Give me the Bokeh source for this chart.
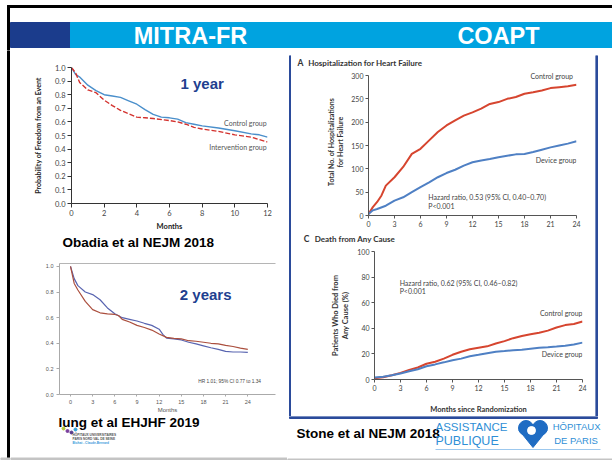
from bokeh.plotting import figure
from bokeh.layouts import column, row
from bokeh.models import Range1d, FixedTicker, LinearAxis, PrintfTickFormatter
from bokeh.core.properties import value
from bokeh.embed import file_html
from bokeh.resources import INLINE

# ---------------- data ----------------
# MITRA-FR 1 year (Obadia et al NEJM 2018): probability of freedom from an event
mitra1_control_months = [0, 0.25, 0.5, 1, 1.5, 2, 2.5, 3, 3.5, 4, 4.5, 5, 5.5, 6, 6.5, 7, 7.5, 8, 9, 10, 11, 11.5, 12]
mitra1_control_surv = [1.0, 0.95, 0.93, 0.87, 0.83, 0.80, 0.79, 0.78, 0.755, 0.73, 0.69, 0.655, 0.635, 0.63, 0.62,
                       0.595, 0.583, 0.571, 0.555, 0.535, 0.512, 0.505, 0.488]
mitra1_interv_months = [0, 0.25, 0.5, 1, 1.5, 2, 2.5, 3, 3.5, 4, 4.5, 5, 6, 6.5, 7, 7.5, 8, 9, 10, 11, 12]
mitra1_interv_surv = [1.0, 0.96, 0.89, 0.835, 0.815, 0.76, 0.72, 0.685, 0.66, 0.635, 0.63, 0.625, 0.61, 0.60,
                      0.583, 0.56, 0.548, 0.53, 0.505, 0.488, 0.452]
mitra1_y_ticks = [0.0, 0.1, 0.2, 0.3, 0.4, 0.5, 0.6, 0.7, 0.8, 0.9, 1.0]
mitra1_x_ticks = [0, 2, 4, 6, 8, 10, 12]

# MITRA-FR 2 years (Iung et al EHJHF 2019)
mitra2_blue_months = [0, 0.5, 1, 2, 3, 4, 5, 6, 7, 8, 9, 10, 11, 12, 12.5, 13, 14, 15, 16, 17, 18, 19, 20, 21, 22, 23, 24]
mitra2_blue_surv = [1.0, 0.905, 0.85, 0.80, 0.78, 0.74, 0.676, 0.63, 0.60, 0.587, 0.574, 0.556, 0.54, 0.51, 0.47,
                    0.44, 0.434, 0.426, 0.408, 0.395, 0.38, 0.365, 0.352, 0.337, 0.332, 0.332, 0.329]
mitra2_red_months = [0, 0.5, 1, 2, 3, 4, 5, 6, 6.5, 7, 8, 9, 10, 11, 12, 13, 14, 15, 16, 17, 18, 19, 20, 21, 22, 23, 24]
mitra2_red_surv = [1.0, 0.867, 0.816, 0.727, 0.663, 0.638, 0.63, 0.625, 0.617, 0.587, 0.566, 0.54, 0.523, 0.503,
                   0.472, 0.446, 0.439, 0.434, 0.42, 0.416, 0.408, 0.40, 0.395, 0.383, 0.375, 0.362, 0.352]
mitra2_y_ticks = [0.0, 0.2, 0.4, 0.6, 0.8, 1.0]
mitra2_x_ticks = [0, 3, 6, 9, 12, 15, 18, 21, 24]

# COAPT (Stone et al NEJM 2018)
coapt_hf_control_months = [0, 0.5, 1, 1.5, 2, 3, 4, 5, 6, 7, 8, 9, 10, 11, 12, 13, 14, 15, 16, 17, 18, 19, 20, 21, 22, 23, 24]
coapt_hf_control_count = [3, 18, 29, 43, 64, 82, 104, 132, 143, 161, 179, 193, 204, 214, 221, 229, 239, 243, 250,
                          254, 261, 264, 268, 273, 275, 277, 280]
coapt_hf_device_months = [0, 0.5, 1, 2, 3, 4, 5, 6, 7, 8, 9, 10, 11, 12, 13, 14, 15, 16, 17, 18, 19, 20, 21, 22, 23, 24]
coapt_hf_device_count = [3, 11, 14, 21, 32, 39, 50, 61, 71, 82, 91, 98, 107, 114, 118, 121, 125, 128, 131, 132,
                         136, 141, 146, 150, 154, 159]
coapt_hf_y_ticks = [0, 50, 100, 150, 200, 250, 300]

coapt_death_months = [0, 1, 2, 3, 4, 5, 6, 7, 8, 9, 10, 11, 12, 13, 14, 15, 16, 17, 18, 19, 20, 21, 22, 23, 24]
coapt_death_control_pct = [1, 1.7, 3.3, 5.2, 7.5, 9.4, 12.3, 13.9, 16.3, 19.3, 21.7, 23.6, 24.8, 25.9, 28.1, 30,
                           32.3, 34, 35.4, 36.6, 38.2, 40.6, 42.5, 43.4, 45.3]
coapt_death_device_pct = [1.5, 2.1, 3.3, 4.7, 6.4, 8, 10.4, 11.8, 13.4, 15.1, 16.3, 18.2, 19.3, 20.5, 21.7, 22.2,
                          22.9, 23.3, 24.1, 24.8, 25.2, 25.7, 26.4, 27.4, 28.8]
coapt_death_y_ticks = [0, 20, 40, 60, 80, 100]
coapt_x_ticks = [0, 3, 6, 9, 12, 15, 18, 21, 24]

# ---------------- styles ----------------
NEJM = "Lato"
ARIAL = "Liberation Sans"
NAVY = "#1b3c8c"
LIGHTBLUE = "#00a3e0"
BOXBLUE = "#2b4b9b"
TITLE_NAVY = "#21408f"
GRAYLINE = "#c4c4c4"


def decor(w, h, bg="white"):
    p = figure(width=w, height=h, x_range=Range1d(0, w), y_range=Range1d(h, 0),
               x_axis_location=None, y_axis_location=None, output_backend="svg",
               toolbar_location=None, min_border=0, background_fill_color=bg,
               border_fill_color=bg, outline_line_color=None, frame_align=False)
    p.grid.visible = False
    return p


def txt(p, x, y, s, size, color="black", font=ARIAL, style="normal", align="left", baseline="middle"):
    p.text(x=[x], y=[y], text=[s], text_font=value(font), text_font_size=size,
           text_font_style=style, text_color=color, text_align=align, text_baseline=baseline)


def chart(w, h, left, right, top, bottom, xr, yr):
    p = figure(width=w, height=h, x_range=Range1d(*xr), y_range=Range1d(*yr),
               output_backend="svg", toolbar_location=None,
               min_border_left=left, min_border_right=right,
               min_border_top=top, min_border_bottom=bottom,
               background_fill_color="white", border_fill_color="white",
               outline_line_color=None, frame_align=False)
    p.grid.visible = False
    return p


def style_axis(ax, font, size, color, line_color, tick_out, standoff,
               lab_size="7px", lab_color="#222", lab_style="normal", lab_standoff=5):
    ax.major_label_text_font = font
    ax.major_label_text_font_size = size
    ax.major_label_text_color = color
    ax.axis_line_color = line_color
    ax.major_tick_line_color = line_color
    ax.major_tick_out = tick_out
    ax.major_tick_in = 0
    ax.minor_tick_line_color = None
    ax.major_label_standoff = standoff
    ax.axis_label_text_font = font
    ax.axis_label_text_font_size = lab_size
    ax.axis_label_text_color = lab_color
    ax.axis_label_text_font_style = lab_style
    ax.axis_label_standoff = lab_standoff


# ---------------- header ----------------
header = decor(612, 50)
header.quad(left=[7], right=[612], top=[5], bottom=[7], color="black")
header.quad(left=[7], right=[9], top=[5], bottom=[50], color="black")
header.quad(left=[10], right=[70], top=[22], bottom=[47], color=NAVY)
header.quad(left=[70], right=[612], top=[22], bottom=[47], color=LIGHTBLUE)
txt(header, 190, 35, "MITRA-FR", "23.5px", "white", ARIAL, "bold", "center")
txt(header, 498, 35, "COAPT", "23.5px", "white", ARIAL, "bold", "center")

left_strip = decor(10, 410)
left_strip.quad(left=[7], right=[9], top=[0], bottom=[408], color="black")
left_strip.quad(left=[0], right=[10], top=[407.5], bottom=[409], color=GRAYLINE)

# ---------------- left column ----------------
# chart 1 : MITRA-FR 1 year
c1 = chart(277, 183, 61, 20, 17, 26, (0, 12), (0, 1))
c1.line(mitra1_control_months, mitra1_control_surv, line_color="#4a8fcb", line_width=1.4)
c1.line(mitra1_interv_months, mitra1_interv_surv, line_color="#d3312d", line_width=1.4, line_dash="5 2")
c1.xaxis.ticker = FixedTicker(ticks=mitra1_x_ticks)
c1.yaxis.ticker = FixedTicker(ticks=mitra1_y_ticks)
c1.yaxis.formatter = PrintfTickFormatter(format="%.1f")
c1.xaxis.axis_label = "Months"
c1.yaxis.axis_label = "Probability of Freedom from an Event"
style_axis(c1.xaxis[0], NEJM, "7.5px", "#444", "#333", 4, 2, "7.5px", "#222", "bold", 3)
style_axis(c1.yaxis[0], NEJM, "7.5px", "#444", "#333", 4, 2, "7px", "#222", "bold", 10)
txt(c1, 8.0, 0.886, "1 year", "15px", TITLE_NAVY, ARIAL, "bold", "center")
txt(c1, 11.95, 0.593, "Control group", "7px", "#555", NEJM, "normal", "right")
txt(c1, 11.95, 0.414, "Intervention group", "7px", "#555", NEJM, "normal", "right")

cap1 = decor(277, 19)
txt(cap1, 52, 9, "Obadia et al NEJM 2018", "13.5px", "black", ARIAL, "bold")

# chart 2 : MITRA-FR 2 years
c2 = chart(277, 163, 49, 12, 11, 18, (-1.489, 27.75), (0, 1.023))
c2.line(mitra2_blue_months, mitra2_blue_surv, line_color="#5864b0", line_width=1.2)
c2.line(mitra2_red_months, mitra2_red_surv, line_color="#ab4f3e", line_width=1.2)
c2.xaxis.ticker = FixedTicker(ticks=mitra2_x_ticks)
c2.yaxis.ticker = FixedTicker(ticks=mitra2_y_ticks)
c2.yaxis.formatter = PrintfTickFormatter(format="%.1f")
c2.xaxis.axis_label = "Months"
style_axis(c2.xaxis[0], ARIAL, "5.5px", "#555", "#aaa", 2, 3, "6px", "#555", "normal", 0)
style_axis(c2.yaxis[0], ARIAL, "5.5px", "#555", "#aaa", 3, 3)
top_axis = LinearAxis(ticker=FixedTicker(ticks=[]), major_label_text_font_size="0px",
                      major_tick_line_color=None, minor_tick_line_color=None,
                      axis_line_color="#b5b5b5", major_label_standoff=0, major_tick_out=0)
c2.add_layout(top_axis, "above")
txt(c2, 18.3, 0.78, "2 years", "15px", TITLE_NAVY, ARIAL, "bold", "center")
txt(c2, 17.3, 0.10, "HR 1.01; 95% CI 0.77 to 1.34", "4.8px", "#444", ARIAL, "normal", "left")

cap2 = decor(277, 45)
txt(cap2, 48, 7, "Iung et al EHJHF 2019", "13.5px", "black", ARIAL, "bold")
cap2.scatter(x=[53, 57, 61, 65], y=[13, 15.5, 17, 14], size=[3, 3, 3, 3],
             color=["#b5c93a", "#7a3e9d", "#5a3a8c", "#35a3d8"])
txt(cap2, 62, 19, "HÔPITAUX UNIVERSITAIRES", "3.2px", "#555", ARIAL, "bold")
txt(cap2, 62, 23, "PARIS NORD VAL DE SEINE", "3.2px", "#555", ARIAL, "bold")
txt(cap2, 62, 27, "Bichat - Claude-Bernard", "3.2px", "#3a9ad9", ARIAL, "bold")
cap2.quad(left=[0], right=[277], top=[42.5], bottom=[44], color=GRAYLINE)

left_col = column(c1, cap1, c2, cap2)

# ---------------- right column (COAPT) ----------------
box_top = decor(325, 5)
box_top.quad(left=[2], right=[310], top=[3], bottom=[5], color=BOXBLUE)

titleA = decor(304, 12)
txt(titleA, 6, 7.7, "A", "8.5px", "#333", NEJM, "bold")
txt(titleA, 16.7, 7.7, "Hospitalization for Heart Failure", "8px", "#333", NEJM, "bold")

figA = chart(304, 162, 77, 19, 1, 14, (0, 24), (0, 315))
figA.line(coapt_hf_control_months, coapt_hf_control_count, line_color="#d6452f", line_width=2)
figA.line(coapt_hf_device_months, coapt_hf_device_count, line_color="#4f80c4", line_width=2)
figA.xaxis.ticker = FixedTicker(ticks=coapt_x_ticks)
figA.yaxis.ticker = FixedTicker(ticks=coapt_hf_y_ticks)
figA.yaxis.bounds = (0, 300)
figA.yaxis.axis_label = "Total No. of Hospitalizations\nfor Heart Failure"
style_axis(figA.xaxis[0], NEJM, "7px", "#444", "#555", 3, 2)
style_axis(figA.yaxis[0], NEJM, "7px", "#444", "#555", 3, 2, "7px", "#333", "bold", 4)
txt(figA, 23.6, 298.5, "Control group", "7px", "#444", NEJM, "normal", "right")
txt(figA, 24.0, 117.9, "Device group", "7px", "#444", NEJM, "normal", "right")
txt(figA, 6.9, 39.2, "Hazard ratio, 0.53 (95% CI, 0.40\u20130.70)", "7px", "#444", NEJM, "normal", "left")
txt(figA, 6.9, 19.3, "P<0.001", "7px", "#444", NEJM, "normal", "left")

titleC = decor(304, 17)
txt(titleC, 12.3, 9, "C", "8.5px", "#333", NEJM, "bold")
txt(titleC, 23.3, 9, "Death from Any Cause", "8px", "#333", NEJM, "bold")

figC = chart(304, 170, 83, 13, 5, 24, (0, 24), (0, 100))
figC.line(coapt_death_months, coapt_death_control_pct, line_color="#d6452f", line_width=2)
figC.line(coapt_death_months, coapt_death_device_pct, line_color="#4f80c4", line_width=2)
figC.xaxis.ticker = FixedTicker(ticks=coapt_x_ticks)
figC.yaxis.ticker = FixedTicker(ticks=coapt_death_y_ticks)
figC.xaxis.axis_label = "Months since Randomization"
figC.yaxis.axis_label = "Patients Who Died from\nAny Cause (%)"
style_axis(figC.xaxis[0], NEJM, "7px", "#444", "#555", 3, 2, "7.5px", "#333", "bold", 11)
style_axis(figC.yaxis[0], NEJM, "7px", "#444", "#555", 3, 2, "7.5px", "#333", "bold", 4)
txt(figC, 24.0, 51.8, "Control group", "7px", "#444", NEJM, "normal", "right")
txt(figC, 24.0, 19.9, "Device group", "7px", "#444", NEJM, "normal", "right")
txt(figC, 2.9, 75.4, "Hazard ratio, 0.62 (95% CI, 0.46\u20130.82)", "7px", "#444", NEJM, "normal", "left")
txt(figC, 2.9, 68.8, "P<0.001", "7px", "#444", NEJM, "normal", "left")

lside = decor(4, 361)
lside.quad(left=[2], right=[4], top=[0], bottom=[361], color=BOXBLUE)
rside = decor(17, 361)
rside.quad(left=[0], right=[2], top=[0], bottom=[361], color=BOXBLUE)

box_bottom = decor(325, 44)
box_bottom.quad(left=[2], right=[310], top=[0], bottom=[2], color=BOXBLUE)
txt(box_bottom, 9, 17, "Stone et al NEJM 2018", "13.5px", "black", ARIAL, "bold")
APHP = "#2f8fd6"
HEART = "#1f6cc3"
txt(box_bottom, 148, 10, "ASSISTANCE", "11.5px", APHP, ARIAL, "normal")
txt(box_bottom, 148, 24, "PUBLIQUE", "12.5px", APHP, ARIAL, "normal")
# AP-HP heart logo
box_bottom.circle(x=[238.5, 252.5], y=[11.5, 11.5], radius=7.5, color=HEART)
box_bottom.patch(x=[231.4, 259.6, 245.5], y=[13.5, 13.5, 31], color=HEART)
box_bottom.circle(x=[244], y=[14], radius=4, color="white")
txt(box_bottom, 313, 10, "HÔPITAUX", "9.5px", APHP, ARIAL, "normal", "right")
txt(box_bottom, 313, 24, "DE  PARIS", "9.5px", APHP, ARIAL, "normal", "right")
box_bottom.segment(x0=[148], y0=[33], x1=[313], y1=[33], line_color="#9cc8ee", line_width=1)
box_bottom.quad(left=[0], right=[325], top=[42.5], bottom=[44], color=GRAYLINE)

inner = column(titleA, figA, titleC, figC)
right_col = column(box_top, row(lside, inner, rside), box_bottom)

page = column(header, row(left_strip, left_col, right_col))

with open("out.html", "w") as f:
    f.write(file_html(page, INLINE))
